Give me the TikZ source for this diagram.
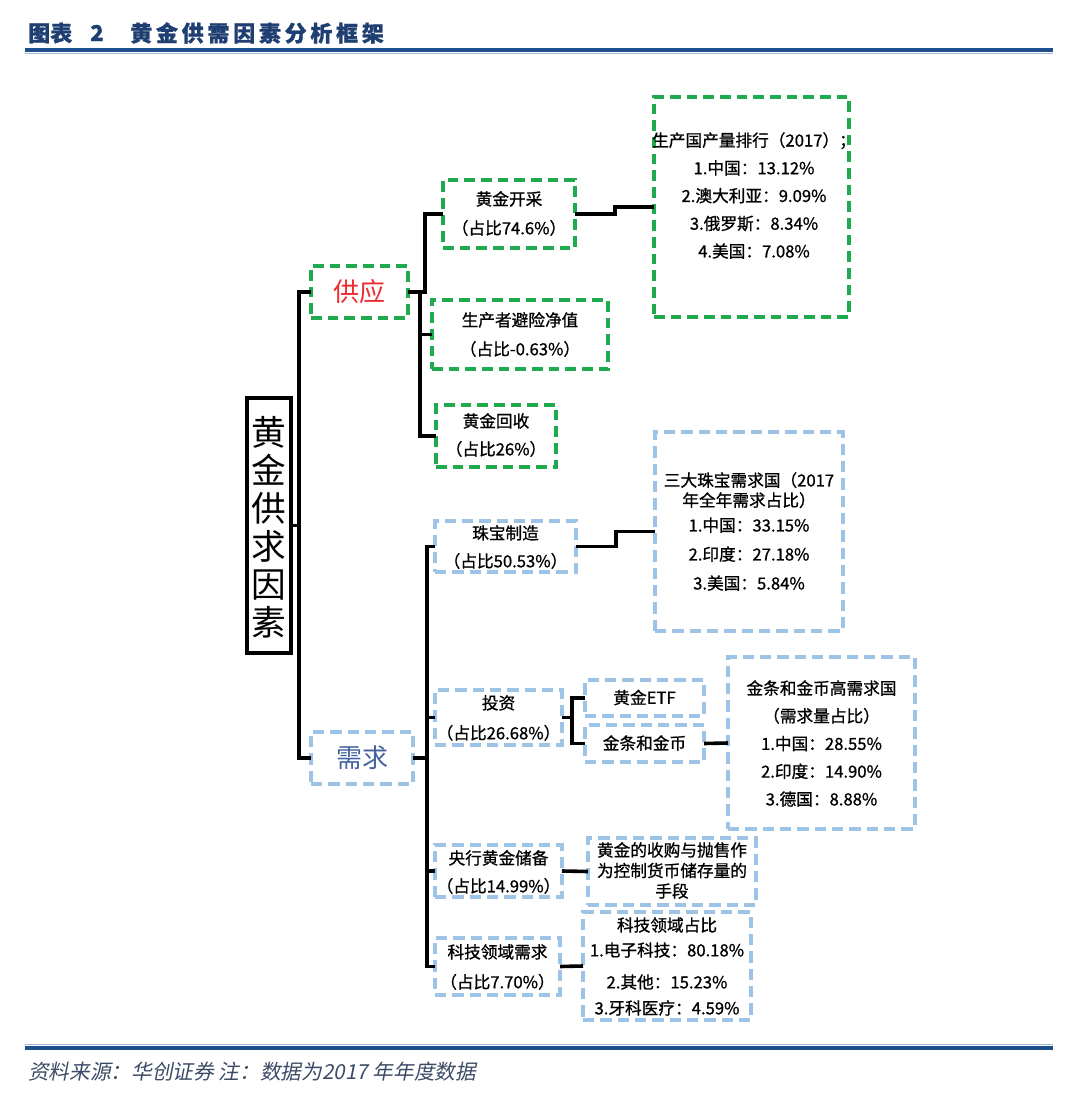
\documentclass[tikz,border=0pt]{standalone}
\usepackage{fontspec}
\setmainfont{Noto Sans CJK SC}[FakeBold=0.9]
\newfontfamily\plaincjk{Noto Sans CJK SC}
\newfontfamily\slantcjk{Noto Sans CJK SC}[FakeSlant=0.2]
\definecolor{grn}{HTML}{1FAA4F}
\definecolor{lblue}{HTML}{9DC3E6}
\definecolor{supred}{HTML}{EE2A2E}
\definecolor{demblue}{HTML}{44629F}
\definecolor{ttlblue}{HTML}{1F3E72}
\definecolor{rulecol}{HTML}{1F4E8C}
\definecolor{rulelight}{HTML}{9FB6D6}
\definecolor{foot}{HTML}{3C4A66}
\newcommand\mkbox[6]{%
  \pgfmathsetmacro\bxw{((#5)-(#3))*0.75}%
  \pgfmathsetmacro\bxh{((#6)-(#4))*0.75}%
  \node[#2,minimum width=\bxw pt,minimum height=\bxh pt] (#1) at ({((#3)+(#5))/2},{((#4)+(#6))/2}) {};}
\newcommand\tsp{\hspace{2.8pt}}
\begin{document}
\begin{tikzpicture}[x=0.75pt,y=-0.75pt,
  gbox/.style={rectangle,draw=grn,line width=2.6pt,dash pattern=on 8pt off 4.5pt,inner sep=0pt,outer sep=0pt},
  bbox/.style={rectangle,draw=lblue,line width=2.6pt,dash pattern=on 8.5pt off 4.5pt,inner sep=0pt,outer sep=0pt},
  mainbox/.style={rectangle,draw=black,line width=2.8pt,inner sep=0pt,outer sep=0pt},
  conn/.style={draw=black,line width=2.7pt,line join=miter},
  txt/.style={align=center,inner sep=0pt,font=\fontsize{12.5}{21}\selectfont}]
\useasboundingbox (0,0) rectangle (1080,1095);

% title and rules
\node[anchor=west,inner sep=0pt,text=ttlblue,font=\fontsize{16.5}{18}\selectfont\bfseries] (ttla) at (28,33) {图表};
\node[inner sep=0pt,text=ttlblue,font=\fontsize{16.5}{18}\selectfont\bfseries] (ttlb) at (97,33) {2};
\node[anchor=west,inner sep=0pt,text=ttlblue,font=\fontsize{16.5}{18}\selectfont\bfseries] (ttlc) at (130,33) {黄\tsp 金\tsp 供\tsp 需\tsp 因\tsp 素\tsp 分\tsp 析\tsp 框\tsp 架};
\draw[line width=2.4pt,draw=rulecol] (25,50) -- (1053,50);
\draw[line width=0.8pt,draw=rulelight] (25,53.5) -- (1053,53.5);
\draw[line width=2.4pt,draw=rulecol] (25,1048) -- (1053,1048);
\draw[line width=0.8pt,draw=rulelight] (25,1044.5) -- (1053,1044.5);
\node[anchor=west,inner sep=0pt,text=foot,font=\fontsize{15.5}{18}\slantcjk] (foottxt) at (28,1072) {资料来源：华创证券 注：数据为2017 年年度数据};

% boxes
\mkbox{main}{mainbox}{247}{398}{291}{653}
\mkbox{gy}{gbox}{311}{266}{408}{318}
\mkbox{xq}{bbox}{311}{732}{413}{784}
\mkbox{mining}{gbox}{443}{180}{575}{248}
\mkbox{hedge}{gbox}{432}{300}{608}{369}
\mkbox{recyc}{gbox}{436}{405}{556}{467}
\mkbox{rank}{gbox}{654}{97}{849}{317}
\mkbox{zb}{bbox}{435}{521}{576}{572}
\mkbox{sd}{bbox}{655}{432}{843}{631}
\mkbox{tz}{bbox}{435}{690}{562}{745}
\mkbox{etf}{bbox}{585}{680}{704}{716}
\mkbox{coin}{bbox}{585}{725}{704}{762}
\mkbox{high}{bbox}{728}{657}{915}{829}
\mkbox{yh}{bbox}{435}{845}{562}{897}
\mkbox{sg}{bbox}{588}{838}{756}{905}
\mkbox{kj}{bbox}{435}{938}{560}{995}
\mkbox{kjzb}{bbox}{583}{912}{751}{1020}

% connectors
\path (main.east) ++(8,0) coordinate (mj);
\draw[conn] (main.east) -- (mj);
\draw[conn] (gy.west) -| (mj) |- (xq.west);
\path (gy.east) ++(12,0) coordinate (sj);
\draw[conn] (gy.east) -- ++(17,0) |- (mining.west);
\draw[conn] (sj) |- (hedge.west);
\draw[conn] (sj) |- (recyc.west);
\draw[conn] (mining.east) -- ++(40,0) |- (rank.west);
\path (xq.east) ++(14,0) coordinate (dj);
\draw[conn] (xq.east) -- (dj);
\draw[conn] (zb.west) -| (dj) |- (kj.west);
\draw[conn] (dj |- tz.west) -- (tz.west);
\draw[conn] (dj |- yh.west) -- (yh.west);
\draw[conn] (zb.east) -- ++(40,0) |- (sd.west);
\path (tz.east) ++(10,0) coordinate (ij);
\draw[conn] (tz.east) -- (ij);
\draw[conn] (etf.west) -| (ij) |- (coin.west);
\draw[conn] (coin.east) -- (high.west);
\draw[conn] (yh.east) -- (sg.west);
\draw[conn] (kj.east) -- (kjzb.west);

% texts
\node[align=center,inner sep=0pt,font=\fontsize{26}{28.5}\plaincjk] (maint) at (269,527) {黄\\金\\供\\求\\因\\素};
\node[inner sep=0pt,text=supred,font=\fontsize{19.5}{22}\plaincjk] (gyt) at (359.5,292) {供应};
\node[inner sep=0pt,text=demblue,font=\fontsize{19.5}{22}\plaincjk] (xqt) at (362,758) {需求};
\node[txt,font=\fontsize{12.5}{21.75}\selectfont] (miningt) at (509,213.5) {黄金开采\\（占比74.6\%）};
\node[txt,font=\fontsize{12.5}{21.75}\selectfont] (hedget) at (520,334.5) {生产者避险净值\\（占比-0.63\%）};
\node[txt,font=\fontsize{12.5}{21}\selectfont] (recyct) at (496,435) {黄金回收\\（占比26\%）};
\node[txt,font=\fontsize{12.5}{20.8}\selectfont] (rankt) at (754,195.5) {生产国产量排行（2017）；\\1.中国：13.12\%\\2.澳大利亚：9.09\%\\3.俄罗斯：8.34\%\\4.美国：7.08\%};
\node[txt,font=\fontsize{12.5}{21}\selectfont] (zbt) at (505.5,547) {珠宝制造\\（占比50.53\%）};
\node[txt,font=\fontsize{12.5}{15}\selectfont] (sdt) at (749,531.5) {三大珠宝需求国（2017\\年全年需求占比）\\[3.75pt]1.中国：33.15\%\\[6.75pt]2.印度：27.18\%\\[6.75pt]3.美国：5.84\%};
\node[txt,font=\fontsize{12.5}{22.5}\selectfont] (tzt) at (498.5,718) {投资\\（占比26.68\%）};
\node[txt] (etft) at (644.5,697.5) {黄金ETF};
\node[txt] (coint) at (644.5,743) {金条和金币};
\node[txt,font=\fontsize{12.5}{20.8}\selectfont] (hight) at (821.5,743.5) {金条和金币高需求国\\（需求量占比）\\1.中国：28.55\%\\2.印度：14.90\%\\3.德国：8.88\%};
\node[txt,font=\fontsize{12.5}{21}\selectfont] (yht) at (498.5,872) {央行黄金储备\\（占比14.99\%）};
\node[txt,font=\fontsize{12.5}{15.4}\selectfont] (sgt) at (672,870.5) {黄金的收购与抛售作\\为控制货币储存量的\\手段};
\node[txt,font=\fontsize{12.5}{22.5}\selectfont] (kjt) at (497.5,967) {科技领域需求\\（占比7.70\%）};
\node[txt,font=\fontsize{12.5}{18.75}\selectfont] (kjzbt) at (667,966.5) {科技领域占比\\1.电子科技：80.18\%\\[5.25pt]2.其他：15.23\%\\[0.75pt]3.牙科医疗：4.59\%};
\end{tikzpicture}
\end{document}
